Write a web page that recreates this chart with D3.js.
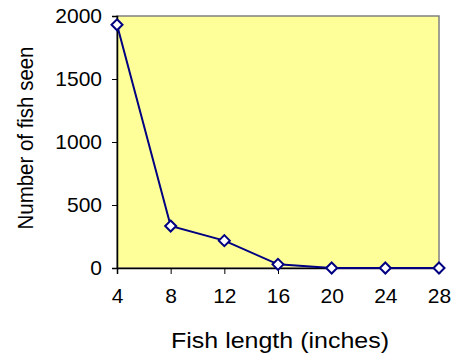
<!DOCTYPE html>
<html>
<head>
<meta charset="utf-8">
<script src="https://cdn.jsdelivr.net/npm/d3@7"></script>
<style>
  body { margin: 0; background: #fff; }
  text { font-family: Arial, "Liberation Sans", sans-serif; fill: #000; }
</style>
</head>
<body>
<svg width="461" height="358"></svg>
<script>
// fish length (inches) vs number seen
var lengths = [4, 8, 12, 16, 20, 24, 28];
var counts = [1930, 333, 217, 29, 0, 0, 0];
var yTicks = [0, 500, 1000, 1500, 2000];

var svg = d3.select("svg");

// plot box (note: "top" is taken by window.top)
var plotLeft = 117, plotRight = 439, plotTop = 16, plotBottom = 268;

var x = d3.scaleLinear().domain([4, 28]).range([plotLeft, plotRight]);
var y = d3.scaleLinear().domain([0, 2000]).range([plotBottom, plotTop]);

// plot area
svg.append("rect")
	.attr("x", plotLeft)
	.attr("y", plotTop)
	.attr("width", plotRight - plotLeft)
	.attr("height", plotBottom - plotTop)
	.style("fill", "#ffff99")
	.style("stroke", "#808080")
	.style("stroke-width", "1.5px");

// y axis
var yAxis = svg.append("g")
	.attr("transform", "translate(" + plotLeft + ",0)")
	.call(d3.axisLeft(y).tickValues(yTicks).tickFormat(d3.format("d")).tickSize(5).tickPadding(10));
yAxis.select(".domain").style("stroke", "#000").style("stroke-width", "1.5px");
yAxis.selectAll(".tick line").style("stroke", "#000");
yAxis.selectAll(".tick text")
	.style("font-size", "21px")
	.style("font-family", "Arial, 'Liberation Sans', sans-serif");

// x axis
var xAxis = svg.append("g")
	.attr("transform", "translate(0," + plotBottom + ")")
	.call(d3.axisBottom(x).tickValues(lengths).tickFormat(d3.format("d")).tickSize(6).tickPadding(14));
xAxis.select(".domain").style("stroke", "#000").style("stroke-width", "1.5px");
xAxis.selectAll(".tick line").style("stroke", "#000");
xAxis.selectAll(".tick text")
	.style("font-size", "21px")
	.style("font-family", "Arial, 'Liberation Sans', sans-serif");

// series line
var data = lengths.map(function(d, i) { return {len: d, n: counts[i]}; });

svg.append("path")
	.datum(data)
	.attr("d", d3.line()
		.x(function(d) { return x(d.len); })
		.y(function(d) { return y(d.n); }))
	.style("fill", "none")
	.style("stroke", "#000080")
	.style("stroke-width", "2px");

svg.append("g")
	.selectAll("path")
	.data(data)
	.enter()
	.append("path")
	.attr("d", "M0,-5.5L5.5,0L0,5.5L-5.5,0Z")
	.attr("transform", function(d) { return "translate(" + x(d.len) + "," + y(d.n) + ")"; })
	.style("fill", "#fff")
	.style("stroke", "#000080")
	.style("stroke-width", "2px");

// axis titles
svg.append("text")
	.attr("x", 280)
	.attr("y", 348)
	.attr("text-anchor", "middle")
	.attr("textLength", 218)
	.attr("lengthAdjust", "spacingAndGlyphs")
	.style("font-size", "22px")
	.text("Fish length (inches)");

svg.append("text")
	.attr("transform", "translate(33,138) rotate(-90)")
	.attr("text-anchor", "middle")
	.attr("textLength", 183)
	.attr("lengthAdjust", "spacingAndGlyphs")
	.style("font-size", "22px")
	.text("Number of fish seen");
</script>
</body>
</html>
